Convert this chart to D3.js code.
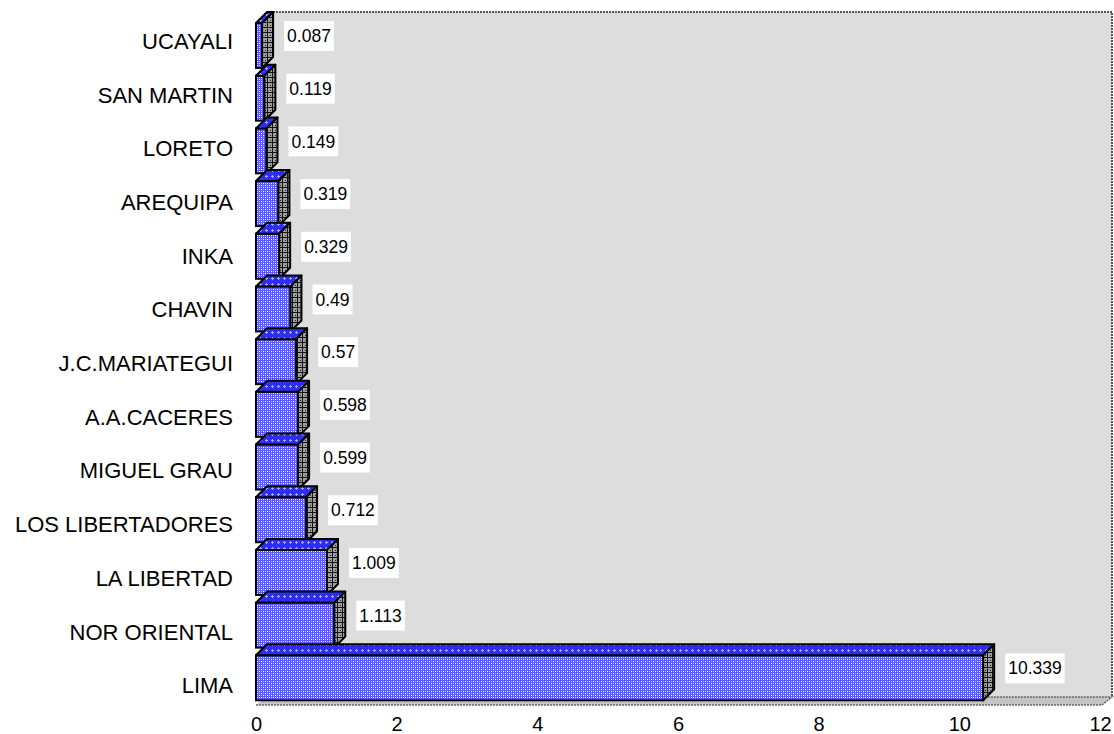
<!DOCTYPE html>
<html>
<head>
<meta charset="utf-8">
<script src="https://cdn.jsdelivr.net/npm/d3@7"></script>
<style>
  html, body { margin: 0; padding: 0; background: #ffffff; }
  svg { display: block; }
  text { font-family: "Liberation Sans", Arial, sans-serif; fill: #000; }
</style>
</head>
<body>
<svg id="chart" width="1114" height="734"></svg>
<script>
// ---- data ----
const categories = ["UCAYALI", "SAN MARTIN", "LORETO", "AREQUIPA", "INKA", "CHAVIN",
  "J.C.MARIATEGUI", "A.A.CACERES", "MIGUEL GRAU", "LOS LIBERTADORES", "LA LIBERTAD",
  "NOR ORIENTAL", "LIMA"];
const values = [0.087, 0.119, 0.149, 0.319, 0.329, 0.49, 0.57, 0.598, 0.599, 0.712, 1.009, 1.113, 10.339];
const valueLabels = ["0.087", "0.119", "0.149", "0.319", "0.329", "0.49", "0.57", "0.598", "0.599", "0.712", "1.009", "1.113", "10.339"];
const xTicks = [0, 2, 4, 6, 8, 10, 12];

// ---- layout ----
const svg = d3.select("#chart");
const dx = 11, dy = -11;
const x = d3.scaleLinear().domain([0, 12]).range([256, 1100]);
const yBar = d3.scaleBand().domain(categories).range([19, 704]).padding(0);
const yLab = d3.scaleBand().domain(categories).range([15, 713]).padding(0);

// ---- patterns ----
const defs = svg.append("defs");
const pf = defs.append("pattern").attr("id", "pFront").attr("width", 4).attr("height", 4)
  .attr("patternUnits", "userSpaceOnUse");
pf.append("rect").attr("width", 4).attr("height", 4).attr("fill", "#5858f6");
pf.append("rect").attr("x", 1).attr("y", 1).attr("width", 1).attr("height", 1).attr("fill", "#ffffff");
pf.append("rect").attr("x", 3).attr("y", 3).attr("width", 1).attr("height", 1).attr("fill", "#ffffff");
pf.append("rect").attr("x", 1).attr("y", 3).attr("width", 1).attr("height", 1).attr("fill", "#c8c8ff");
pf.append("rect").attr("x", 3).attr("y", 1).attr("width", 1).attr("height", 1).attr("fill", "#c8c8ff");

const pt = defs.append("pattern").attr("id", "pTop").attr("width", 6).attr("height", 6)
  .attr("patternUnits", "userSpaceOnUse");
pt.append("rect").attr("width", 6).attr("height", 6).attr("fill", "#2e2ef2");
pt.append("rect").attr("x", 2).attr("y", 1).attr("width", 1).attr("height", 3).attr("fill", "#a8a8ff");
pt.append("rect").attr("x", 1).attr("y", 2).attr("width", 3).attr("height", 1).attr("fill", "#a8a8ff");

const ps = defs.append("pattern").attr("id", "pSide").attr("width", 5).attr("height", 5)
  .attr("patternUnits", "userSpaceOnUse");
ps.append("rect").attr("width", 5).attr("height", 5).attr("fill", "#a0a0a0");
ps.append("rect").attr("x", 2).attr("y", 0).attr("width", 1).attr("height", 5).attr("fill", "#111111");
ps.append("rect").attr("x", 0).attr("y", 2).attr("width", 5).attr("height", 1).attr("fill", "#111111");
ps.append("rect").attr("x", 0).attr("y", 0).attr("width", 1).attr("height", 1).attr("fill", "#222222");

// ---- walls ----
const x0 = x(0), x12 = x(12);
const wallTop = 12, wallBottom = 697, floorFront = 705;
svg.append("rect")
  .attr("x", x0 + dx).attr("y", wallTop)
  .attr("width", x12 + dx + 1 - (x0 + dx)).attr("height", wallBottom - wallTop)
  .attr("fill", "#dddddd");
// wall top & right dashed edges
svg.append("path")
  .attr("d", `M${x0 + dx},${wallTop} L${x12 + dx + 1},${wallTop} L${x12 + dx + 1},${wallBottom}`)
  .attr("fill", "none").attr("stroke", "#555").attr("stroke-width", 2).attr("stroke-dasharray", "2,1");
// floor
svg.append("path")
  .attr("d", `M${x0},${floorFront} L${x12 + 2},${floorFront} L${x12 + dx + 1},${wallBottom} L${x0 + dx},${wallBottom} Z`)
  .attr("fill", "#c4c4c4");
svg.append("path")
  .attr("d", `M${x0},${floorFront} L${x12 + 2},${floorFront} L${x12 + dx + 1},${wallBottom} L${x0 + dx},${wallBottom}`)
  .attr("fill", "none").attr("stroke", "#666").attr("stroke-width", 1.5).attr("stroke-dasharray", "2,1");

// ---- bars ----
const data = categories.map((c, i) => ({ c, v: values[i], l: valueLabels[i] }));
const g = svg.append("g");
data.forEach(d => {
  const top = yBar(d.c) + 4, bot = yBar(d.c) + 49;
  const xr = x(d.v);
  const bg = g.append("g");
  // front
  bg.append("rect").attr("x", x0).attr("y", top).attr("width", xr - x0).attr("height", bot - top)
    .attr("fill", "url(#pFront)").attr("stroke", "#000").attr("stroke-width", 2);
  // top face
  bg.append("path")
    .attr("d", `M${x0},${top} L${xr},${top} L${xr + dx},${top + dy} L${x0 + dx},${top + dy} Z`)
    .attr("fill", "url(#pTop)").attr("stroke", "#000").attr("stroke-width", 2).attr("stroke-linejoin", "round");
  // side face
  bg.append("path")
    .attr("d", `M${xr},${top} L${xr + dx},${top + dy} L${xr + dx},${bot + dy} L${xr},${bot} Z`)
    .attr("fill", "url(#pSide)").attr("stroke", "#000").attr("stroke-width", 2).attr("stroke-linejoin", "round");
});

// ---- value labels ----
data.forEach(d => {
  const top = yBar(d.c) + 4;
  const tx = x(d.v) + dx + 14;
  const cy = top + 13;
  const lg = svg.append("g");
  const t = lg.append("text").attr("x", tx).attr("y", cy).attr("dy", "0.35em")
    .attr("font-size", 17.5).text(d.l);
  const w = t.node().getComputedTextLength();
  lg.insert("rect", "text").attr("x", tx - 3).attr("y", cy - 15).attr("width", w + 6).attr("height", 30)
    .attr("fill", "#ffffff");
});

// ---- axes ----
const yAxis = d3.axisLeft(yLab).tickSize(0).tickPadding(23);
const ya = svg.append("g").attr("transform", `translate(${x0},0)`).call(yAxis);
ya.select(".domain").remove();
ya.selectAll("text").attr("font-size", 22).attr("font-family", "Liberation Sans, Arial, sans-serif").attr("fill", "#000");

const xAxis = d3.axisBottom(x).tickValues(xTicks).tickSize(0).tickPadding(12).tickFormat(d3.format("d"));
const xa = svg.append("g").attr("transform", `translate(0,${floorFront})`).call(xAxis);
xa.select(".domain").remove();
xa.selectAll("text").attr("font-size", 20).attr("font-family", "Liberation Sans, Arial, sans-serif").attr("fill", "#000");
</script>
</body>
</html>
